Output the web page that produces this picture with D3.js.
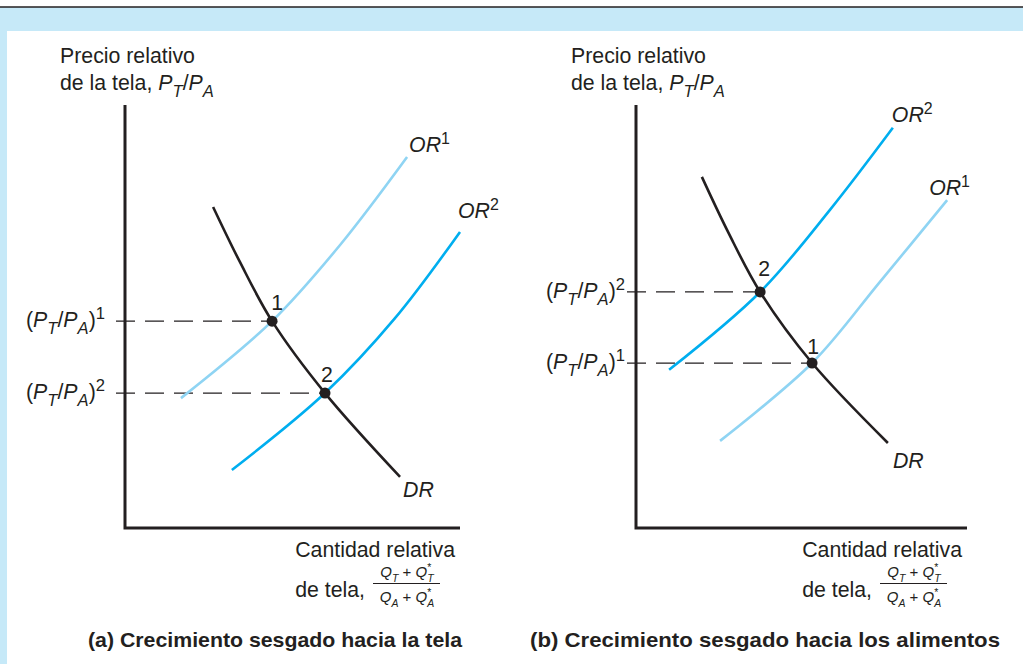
<!DOCTYPE html>
<html>
<head>
<meta charset="utf-8">
<script src="https://cdn.jsdelivr.net/npm/d3@7"></script>
<style>
body { margin: 0; background: #fff; }
svg { display: block; font-family: "Liberation Sans", Arial, Helvetica, sans-serif; }
</style>
</head>
<body>
<svg id="chart" width="1023" height="664"></svg>
<script>
// curves in axis units (0..10 on both axes)
var drA  = [[2.63,7.59],[3.43,6.29],[4.39,4.89],[5.97,3.19],[8.21,1.21]];
var or1A = [[1.67,3.07],[4.39,4.89],[6.42,6.69],[8.42,8.77]];
var or2A = [[3.19,1.37],[5.97,3.19],[8.06,4.96],[10.0,7.0]];
var eqA  = [{n:"1", x:4.39, y:4.89}, {n:"2", x:5.97, y:3.19}];

var drB  = [[1.99,8.30],[2.78,7.00],[3.75,5.58],[5.32,3.90],[7.61,2.01]];
var or2B = [[1.00,3.74],[3.75,5.58],[5.86,7.52],[7.76,9.46]];
var or1B = [[2.54,2.06],[5.32,3.90],[7.37,5.82],[9.40,7.75]];
var eqB  = [{n:"2", x:3.75, y:5.58}, {n:"1", x:5.32, y:3.90}];

var titles = ["(a) Crecimiento sesgado hacia la tela", "(b) Crecimiento sesgado hacia los alimentos"];

var ink = "#231f20", lightBlue = "#8fd4f3", blue = "#00aeef", band = "#c6e9f8";
var fs = 21.3;

var svg = d3.select("#chart");

// frame: thin rule, blue band, white panel
svg.append("rect").attr("x",0).attr("y",7).attr("width",1023).attr("height",657).attr("fill",band);
svg.append("rect").attr("x",7).attr("y",31).attr("width",1016).attr("height",633).attr("fill","#fff");
svg.append("line").attr("x1",0).attr("x2",1023).attr("y1",7).attr("y2",7).attr("stroke",ink).attr("stroke-width",1.5);

// text with sub / superscripts; "back" stacks a part over the previous one
function rich(g, x, y, parts, size, anchor, scale) {
  scale = scale || 0.75;
  var t = g.append("text").attr("x", x).attr("y", y).attr("font-size", size)
    .attr("fill", ink).attr("text-anchor", anchor || "start");
  var shift = 0, prev = null;
  parts.forEach(function(p) {
    var target = p.sub ? size*0.33 : (p.sup ? -size*0.38 : 0);
    var ts = t.append("tspan").attr("dy", target - shift).text(p.t);
    shift = target;
    if (p.sub || p.sup) ts.attr("font-size", size*scale);
    if (p.it) ts.attr("font-style", "italic");
    if (p.back && prev) ts.attr("dx", -prev.node().getComputedTextLength());
    prev = ts;
  });
  return t;
}

function ratioParts(k) {
  return [{t:"("},{t:"P",it:1},{t:"T",it:1,sub:1},{t:"/"},{t:"P",it:1},{t:"A",it:1,sub:1},{t:")"},{t:k,sup:1}];
}

function drawPanel(opt) {
  var g = svg.append("g");
  var x = d3.scaleLinear().domain([0,10]).range([opt.x0, opt.x1]);
  var y = d3.scaleLinear().domain([0,10]).range([528, 105]);
  var line = d3.line().x(function(d){return x(d[0]);}).y(function(d){return y(d[1]);})
    .curve(d3.curveCatmullRom.alpha(0.5));

  // axes
  g.append("path")
    .attr("d", "M" + x(0) + "," + y(10) + "V" + y(0) + "H" + x(10))
    .attr("fill","none").attr("stroke",ink).attr("stroke-width",3);

  // dashed guides
  opt.eq.forEach(function(d) {
    g.append("line").attr("x1", x(0) - 9).attr("x2", x(d.x))
      .attr("y1", y(d.y)).attr("y2", y(d.y))
      .attr("stroke", ink).attr("stroke-width", 1.3).attr("stroke-dasharray","19,10");
    rich(g, x(0) - opt.labGap, y(d.y) + 6, ratioParts(d.n), fs, "end", 0.78);
  });

  // curves
  [[opt.or1, lightBlue],[opt.or2, blue],[opt.dr, ink]].forEach(function(c) {
    g.append("path").attr("d", line(c[0])).attr("fill","none")
      .attr("stroke", c[1]).attr("stroke-width", 2.6);
  });

  // equilibrium points
  g.selectAll("circle.eq").data(opt.eq).enter().append("circle")
    .attr("cx", function(d){return x(d.x);}).attr("cy", function(d){return y(d.y);})
    .attr("r", 5.5).attr("fill", ink);
  opt.eq.forEach(function(d, i) {
    g.append("text").attr("x", x(d.x) + opt.numOff[i][0]).attr("y", y(d.y) + opt.numOff[i][1])
      .attr("text-anchor","middle").attr("font-size",fs).attr("fill",ink).text(d.n);
  });

  // curve labels
  function endOf(a){ var p = a[a.length-1]; return [x(p[0]), y(p[1])]; }
  var e;
  e = endOf(opt.or1); rich(g, e[0] + opt.or1Off[0], e[1] + opt.or1Off[1], [{t:"OR",it:1},{t:"1",sup:1}], fs);
  e = endOf(opt.or2); rich(g, e[0] + opt.or2Off[0], e[1] + opt.or2Off[1], [{t:"OR",it:1},{t:"2",sup:1}], fs);
  e = endOf(opt.dr);  rich(g, e[0] + opt.drOff[0], e[1] + opt.drOff[1], [{t:"DR",it:1}], fs);

  // y axis title
  var tx = x(0) - 65;
  g.append("text").attr("x", tx).attr("y", 63).attr("font-size", fs).attr("fill", ink).text("Precio relativo");
  rich(g, tx, 90, [{t:"de la tela, "},{t:"P",it:1},{t:"T",it:1,sub:1},{t:"/"},{t:"P",it:1},{t:"A",it:1,sub:1}], fs, "start", 0.78);

  // x axis title
  g.append("text").attr("x", x(10) - 5).attr("y", 557).attr("font-size", fs).attr("text-anchor","end")
    .attr("fill", ink).text("Cantidad relativa");
  var fx = x(10) - 87;
  g.append("text").attr("x", fx - 8).attr("y", 597).attr("font-size", fs).attr("text-anchor","end")
    .attr("fill", ink).text("de tela,");
  g.append("line").attr("x1", fx).attr("x2", fx + 67).attr("y1", 583.5).attr("y2", 583.5)
    .attr("stroke", ink).attr("stroke-width", 1);
  rich(g, fx + 34, 577, [{t:"Q",it:1},{t:"T",it:1,sub:1},{t:" + "},{t:"Q",it:1},{t:"T",it:1,sub:1},{t:"*",sup:1,back:1}], 15, "middle", 0.7);
  rich(g, fx + 34, 602, [{t:"Q",it:1},{t:"A",it:1,sub:1},{t:" + "},{t:"Q",it:1},{t:"A",it:1,sub:1},{t:"*",sup:1,back:1}], 15, "middle", 0.7);

  // panel title
  g.append("text").attr("x", opt.tx0).attr("y", 647).attr("font-size", 20.5).attr("font-weight","bold")
    .attr("fill", ink).attr("textLength", opt.tLen).attr("lengthAdjust","spacingAndGlyphs").text(opt.title);
}

drawPanel({x0:125, x1:460, dr:drA, or1:or1A, or2:or2A, eq:eqA, labGap:20,
  numOff:[[5,-11],[2,-11]], or1Off:[2,-5], or2Off:[-2,-14], drOff:[3,20],
  title:titles[0], tx0:88, tLen:374});
drawPanel({x0:636, x1:967, dr:drB, or1:or1B, or2:or2B, eq:eqB, labGap:11,
  numOff:[[4,-16],[1,-9]], or1Off:[-18,-5], or2Off:[-1,-6], drOff:[5,25],
  title:titles[1], tx0:530, tLen:470});
</script>
</body>
</html>
